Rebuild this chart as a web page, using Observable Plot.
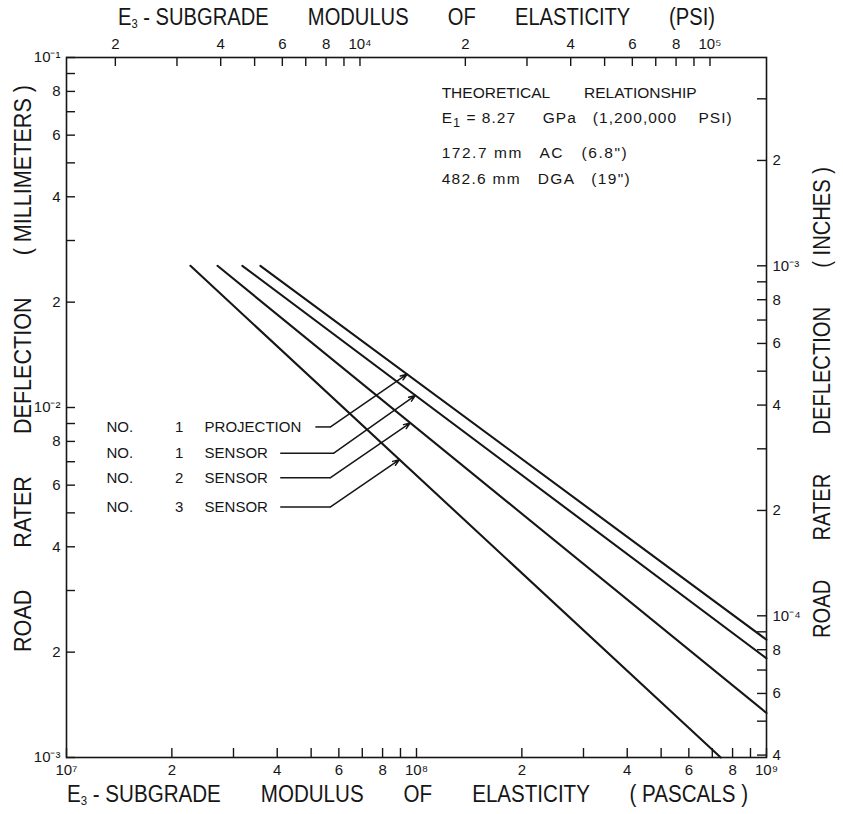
<!DOCTYPE html>
<html>
<head>
<meta charset="utf-8">
<script src="https://cdn.jsdelivr.net/npm/d3@7"></script>
<script src="https://cdn.jsdelivr.net/npm/@observablehq/plot@0.6"></script>
<style>
  body { margin: 0; background: #fff; }
  #chart svg text { white-space: pre; }
</style>
</head>
<body>
<div id="chart"></div>
<script>
// Road Rater deflection versus subgrade modulus — theoretical relationship.

// Series: each line runs from a start point to an end point (straight in log–log space).
const seriesNames = ["NO. 1 PROJECTION", "NO. 1 SENSOR", "NO. 2 SENSOR", "NO. 3 SENSOR"];
const calloutNumber = ["1", "1", "2", "3"];
const calloutWord = ["PROJECTION", "SENSOR", "SENSOR", "SENSOR"];
const modulusStartPa = [3.58e7, 3.18e7, 2.70e7, 2.26e7];
const modulusEndPa = [1.0e9, 1.0e9, 1.0e9, 7.4e8];
const deflectionStartMm = [0.0254, 0.0254, 0.0254, 0.0254];
const deflectionEndMm = [2.17e-3, 1.92e-3, 1.34e-3, 1.0e-3];

// Notes in the upper right.
const noteLines = [
  "THEORETICAL        RELATIONSHIP",
  "E\u2081 = 8.27     GPa   (1,200,000    PSI)",
  "172.7 mm   AC   (6.8\")",
  "482.6 mm   DGA   (19\")"
];

// Axis titles.
const titleTop = "E\u2083 - SUBGRADE       MODULUS       OF       ELASTICITY       (PSI)";
const titleBottom = "E\u2083 - SUBGRADE       MODULUS       OF       ELASTICITY       ( PASCALS )";
const titleLeft = "ROAD       RATER       DEFLECTION       ( MILLIMETERS )";
const titleRight = "ROAD       RATER       DEFLECTION       ( INCHES )";

// Axis ticks.
const paTicks = [1e7,2e7,3e7,4e7,5e7,6e7,7e7,8e7,9e7,1e8,2e8,3e8,4e8,5e8,6e8,7e8,8e8,9e8,1e9];
const paLabels = [1e7,2e7,4e7,6e7,8e7,1e8,2e8,4e8,6e8,8e8,1e9];
const psiTicks = [2e3,3e3,4e3,5e3,6e3,7e3,8e3,9e3,1e4,2e4,3e4,4e4,5e4,6e4,7e4,8e4,9e4,1e5];
const psiLabels = [2e3,4e3,6e3,8e3,1e4,2e4,4e4,6e4,8e4,1e5];
const mmTicks = [1e-3,2e-3,3e-3,4e-3,5e-3,6e-3,7e-3,8e-3,9e-3,1e-2,2e-2,3e-2,4e-2,5e-2,6e-2,7e-2,8e-2,9e-2,1e-1];
const mmLabels = [1e-3,2e-3,4e-3,6e-3,8e-3,1e-2,2e-2,4e-2,6e-2,8e-2,1e-1];
const inTicks = [4e-5,5e-5,6e-5,7e-5,8e-5,9e-5,1e-4,2e-4,3e-4,4e-4,5e-4,6e-4,7e-4,8e-4,9e-4,1e-3,2e-3,3e-3];
const inLabels = [4e-5,6e-5,8e-5,1e-4,2e-4,4e-4,6e-4,8e-4,1e-3,2e-3];

const PA_PER_PSI = 6894.757;
const MM_PER_IN = 25.4;

const SUP = {"-": "\u207B", "0": "\u2070", "1": "\u00B9", "2": "\u00B2", "3": "\u00B3",
  "4": "\u2074", "5": "\u2075", "6": "\u2076", "7": "\u2077", "8": "\u2078", "9": "\u2079"};
function fmt(v) {
  const e = Math.floor(Math.log10(v) + 1e-6);
  const m = Math.round(v / Math.pow(10, e));
  return m === 1 ? "10" + String(e).split("").map(c => SUP[c]).join("") : String(m);
}

// Line table.
const rows = seriesNames.flatMap((name, i) => [
  {series: name, modulus: modulusStartPa[i], deflection: deflectionStartMm[i]},
  {series: name, modulus: modulusEndPa[i], deflection: deflectionEndMm[i]}
]);

// Deflection on series i at a given modulus (straight line in log–log space).
function deflectionAt(i, pa) {
  const t = (Math.log(pa) - Math.log(modulusStartPa[i])) / (Math.log(modulusEndPa[i]) - Math.log(modulusStartPa[i]));
  return Math.exp(Math.log(deflectionStartMm[i]) + t * (Math.log(deflectionEndMm[i]) - Math.log(deflectionStartMm[i])));
}

// Callout placement (label row, leader start, elbow and arrow tip along each line).
const callouts = seriesNames.map((name, i) => {
  const labelY = [8.8e-3, 7.4e-3, 6.3e-3, 5.2e-3][i];
  const leaderStart = [5.14e7, 4.08e7, 4.08e7, 4.08e7][i];
  const elbow = [5.68e7, 5.79e7, 5.68e7, 5.68e7][i];
  const tip = [9.4e7, 9.93e7, 9.6e7, 8.94e7][i];
  return {name, no: calloutNumber[i], word: calloutWord[i], labelY, leaderStart, elbow, tip, tipY: deflectionAt(i, tip)};
});

const ink = "#161616";
const font = "'Liberation Sans', Arial, Helvetica, sans-serif";
const tick = {stroke: ink, strokeWidth: 1.4};
const tickLabel = {fill: ink, fontSize: 15};
const title = {fontSize: 23, fill: ink, textAnchor: "middle", lineAnchor: "middle", className: "axis-title"};

const chart = Plot.plot({
  width: 843,
  height: 814,
  marginLeft: 66,
  marginRight: 77,
  marginTop: 57,
  marginBottom: 57,
  style: {fontFamily: font, fontSize: "15px", color: ink, background: "#fff"},
  x: {type: "log", domain: [1e7, 1e9], label: null, axis: null},
  y: {type: "log", domain: [1e-3, 1e-1], label: null, axis: null},
  marks: [
    Plot.frame({stroke: ink, strokeWidth: 1.6}),

    // Inward ticks on all four sides
    Plot.tickX(paTicks, {x: d => d, insetTop: 691, ...tick}),
    Plot.tickX(psiTicks, {x: d => d * PA_PER_PSI, insetBottom: 691, ...tick}),
    Plot.tickY(mmTicks, {y: d => d, insetRight: 691, ...tick}),
    Plot.tickY(inTicks, {y: d => d * MM_PER_IN, insetLeft: 691, ...tick}),

    // Tick labels: pascals (bottom), psi (top), millimeters (left), inches (right)
    Plot.text(paLabels, {x: d => d, frameAnchor: "bottom", lineAnchor: "middle", textAnchor: "middle", dy: 13, text: fmt, ...tickLabel}),
    Plot.text(psiLabels, {x: d => d * PA_PER_PSI, frameAnchor: "top", lineAnchor: "middle", textAnchor: "middle", dy: -13, text: fmt, ...tickLabel}),
    Plot.text(mmLabels, {y: d => d, frameAnchor: "left", textAnchor: "end", dx: -6, text: fmt, ...tickLabel}),
    Plot.text(inLabels, {y: d => d * MM_PER_IN, frameAnchor: "right", textAnchor: "start", dx: 6, text: fmt, ...tickLabel}),

    // Theoretical relationship lines
    Plot.line(rows, {x: "modulus", y: "deflection", z: "series", stroke: ink, strokeWidth: 2.1}),

    // Callout labels
    Plot.text(callouts, {x: 1.30e7, y: "labelY", text: () => "NO.", textAnchor: "start", fill: ink, fontSize: 15}),
    Plot.text(callouts, {x: 2.10e7, y: "labelY", text: "no", textAnchor: "middle", fill: ink, fontSize: 15}),
    Plot.text(callouts, {x: 2.48e7, y: "labelY", text: "word", textAnchor: "start", fill: ink, fontSize: 15}),

    // Leaders with arrows to the lines
    Plot.link(callouts, {x1: "leaderStart", y1: "labelY", x2: "elbow", y2: "labelY", stroke: ink, strokeWidth: 1.5}),
    Plot.arrow(callouts, {x1: "elbow", y1: "labelY", x2: "tip", y2: "tipY", stroke: ink, strokeWidth: 1.5, headLength: 7, headAngle: 40}),

    // Notes
    Plot.text(noteLines, {x: 1.18e8, y: [7.89e-2, 6.70e-2, 5.32e-2, 4.51e-2], text: d => d, textAnchor: "start", fill: ink, fontSize: 15.5, className: "notes"}),

    // Axis titles
    Plot.text([titleTop], {frameAnchor: "top", dx: 0, dy: -40, ...title}),
    Plot.text([titleBottom], {frameAnchor: "bottom", dx: -9, dy: 37, ...title}),
    Plot.text([titleLeft], {frameAnchor: "left", dx: -43, dy: -39, rotate: -90, ...title}),
    Plot.text([titleRight], {frameAnchor: "right", dx: 56, dy: -5, rotate: -90, ...title})
  ]
});

// Lettered widths of the titles and notes; subscript digits drawn lowered.
const textLengths = {
  [titleTop]: [597, "spacingAndGlyphs"],
  [titleBottom]: [681, "spacingAndGlyphs"],
  [titleLeft]: [567, "spacingAndGlyphs"],
  [titleRight]: [471, "spacingAndGlyphs"],
  [noteLines[0]]: [255, "spacing"],
  [noteLines[1]]: [290, "spacing"],
  [noteLines[2]]: [185, "spacing"],
  [noteLines[3]]: [188, "spacing"]
};
const SUB = {"\u2081": "1", "\u2083": "3"};
d3.select(chart).selectAll("g.axis-title text, g.notes text").each(function () {
  const sel = d3.select(this);
  const full = this.textContent;
  const spec = textLengths[full];
  const fs = parseFloat(sel.attr("font-size")) || 15;
  const m = full.match(/[\u2081\u2083]/);
  if (m) {
    const [head, tail] = full.split(m[0]);
    sel.text(null);
    sel.append("tspan").text(head);
    sel.append("tspan").attr("dy", fs * 0.24).attr("font-size", fs * 0.85).text(SUB[m[0]]);
    sel.append("tspan").attr("dy", -fs * 0.24).text(tail);
  }
  if (spec) sel.attr("textLength", spec[0]).attr("lengthAdjust", spec[1]);
});

document.getElementById("chart").appendChild(chart);
</script>
</body>
</html>
